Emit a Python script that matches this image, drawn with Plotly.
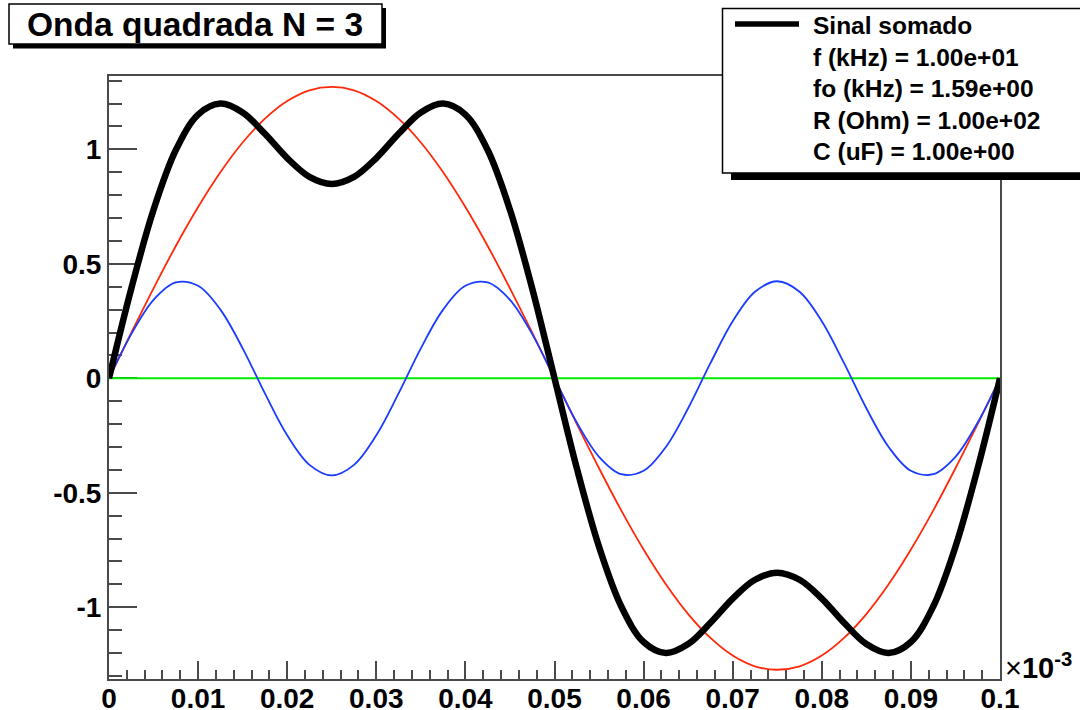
import plotly.graph_objects as go

# time axis (units of 1e-3 s), one full period of the 10 kHz square wave
t = [0.0, 0.0025, 0.005, 0.0075, 0.01, 0.0125, 0.015, 0.0175, 0.02, 0.0225,
     0.025, 0.0275, 0.03, 0.0325, 0.035, 0.0375, 0.04, 0.0425, 0.045, 0.0475,
     0.05, 0.0525, 0.055, 0.0575, 0.06, 0.0625, 0.065, 0.0675, 0.07, 0.0725,
     0.075, 0.0775, 0.08, 0.0825, 0.085, 0.0875, 0.09, 0.0925, 0.095, 0.0975, 0.1]

# first harmonic
harm1 = [0.0, 0.199, 0.393, 0.578, 0.748, 0.900, 1.030, 1.134, 1.211, 1.258,
         1.273, 1.258, 1.211, 1.134, 1.030, 0.900, 0.748, 0.578, 0.393, 0.199,
         0.0, -0.199, -0.393, -0.578, -0.748, -0.900, -1.030, -1.134, -1.211, -1.258,
         -1.273, -1.258, -1.211, -1.134, -1.030, -0.900, -0.748, -0.578, -0.393, -0.199, 0.0]

# second harmonic (vanishes for a square wave)
harm2 = [0.0, 0.0, 0.0, 0.0, 0.0, 0.0, 0.0, 0.0, 0.0, 0.0,
         0.0, 0.0, 0.0, 0.0, 0.0, 0.0, 0.0, 0.0, 0.0, 0.0,
         0.0, 0.0, 0.0, 0.0, 0.0, 0.0, 0.0, 0.0, 0.0, 0.0,
         0.0, 0.0, 0.0, 0.0, 0.0, 0.0, 0.0, 0.0, 0.0, 0.0, 0.0]

# third harmonic
harm3 = [0.0, 0.193, 0.343, 0.419, 0.404, 0.300, 0.131, -0.066, -0.249, -0.378,
         -0.424, -0.378, -0.249, -0.066, 0.131, 0.300, 0.404, 0.419, 0.343, 0.193,
         0.0, -0.193, -0.343, -0.419, -0.404, -0.300, -0.131, 0.066, 0.249, 0.378,
         0.424, 0.378, 0.249, 0.066, -0.131, -0.300, -0.404, -0.419, -0.343, -0.193, 0.0]

# summed signal
soma = [0.0, 0.392, 0.736, 0.997, 1.152, 1.200, 1.161, 1.068, 0.962, 0.880,
        0.849, 0.880, 0.962, 1.068, 1.161, 1.200, 1.152, 0.997, 0.736, 0.392,
        0.0, -0.392, -0.736, -0.997, -1.152, -1.200, -1.161, -1.068, -0.962, -0.880,
        -0.849, -0.880, -0.962, -1.068, -1.161, -1.200, -1.152, -0.997, -0.736, -0.392, 0.0]

x_ticks = [0, 0.01, 0.02, 0.03, 0.04, 0.05, 0.06, 0.07, 0.08, 0.09, 0.1]
x_labels = ["0", "0.01", "0.02", "0.03", "0.04", "0.05", "0.06", "0.07", "0.08", "0.09", "0.1"]
y_ticks = [-1, -0.5, 0, 0.5, 1]
y_labels = ["-1", "-0.5", "0", "0.5", "1"]

title_text = "Onda quadrada N = 3"
legend_lines = ["Sinal somado", "f (kHz) = 1.00e+01", "fo (kHz) = 1.59e+00",
                "R (Ohm) = 1.00e+02", "C (uF) = 1.00e+00"]

FONT = "Liberation Sans, Arial, Helvetica, sans-serif"
W, H = 1080, 710
L, R, T, B = 109, 1000, 76, 679


def px_x(p):
    return (p - L) / (R - L)


def px_y(p):
    return (B - p) / (B - T)


fig = go.Figure()
fig.add_trace(go.Scatter(x=t, y=harm1, mode="lines", line=dict(color="#ff2a0a", width=1.8, shape="spline"),
                         showlegend=False, hoverinfo="skip"))
fig.add_trace(go.Scatter(x=t, y=harm2, mode="lines", line=dict(color="#00ee00", width=2),
                         showlegend=False, hoverinfo="skip"))
fig.add_trace(go.Scatter(x=t, y=harm3, mode="lines", line=dict(color="#1a3cff", width=1.8, shape="spline"),
                         showlegend=False, hoverinfo="skip"))
fig.add_trace(go.Scatter(x=t, y=soma, mode="lines", line=dict(color="black", width=6.5, shape="spline"),
                         showlegend=False, hoverinfo="skip"))

axis_common = dict(
    showline=True, mirror=True, linecolor="#4a4a4a", linewidth=2, layer="below traces",
    showgrid=False, zeroline=False, ticks="inside", tickcolor="#4a4a4a", tickwidth=1.5,
    tickfont=dict(family=FONT, size=28, color="black", weight="bold"),
)

fig.update_xaxes(
    range=[0, 0.1], tickmode="array", tickvals=x_ticks, ticktext=x_labels, ticklen=18,
    ticklabelstandoff=-7,
    minor=dict(ticks="inside", ticklen=9, tick0=0, dtick=0.002, tickcolor="#4a4a4a", tickwidth=1.5),
    **axis_common,
)
fig.update_yaxes(
    range=[-1.3135, 1.3205], tickmode="array", tickvals=y_ticks, ticktext=y_labels, ticklen=28,
    minor=dict(ticks="inside", ticklen=13, tick0=0, dtick=0.1, tickcolor="#4a4a4a", tickwidth=1.5),
    **axis_common,
)

shapes = [
    # title box with drop shadow
    dict(type="rect", xref="paper", yref="paper", x0=px_x(13), x1=px_x(386), y0=px_y(8), y1=px_y(48.5),
         fillcolor="black", line=dict(width=0), layer="above"),
    dict(type="rect", xref="paper", yref="paper", x0=px_x(9), x1=px_x(382), y0=px_y(4), y1=px_y(44),
         fillcolor="white", line=dict(color="black", width=1.5), layer="above"),
    # legend box with drop shadow
    dict(type="rect", xref="paper", yref="paper", x0=px_x(731), x1=px_x(1100), y0=px_y(16), y1=px_y(180),
         fillcolor="black", line=dict(width=0), layer="above"),
    dict(type="rect", xref="paper", yref="paper", x0=px_x(722.5), x1=px_x(1095), y0=px_y(8.5), y1=px_y(173),
         fillcolor="white", line=dict(color="black", width=1.5), layer="above"),
    # legend line sample
    dict(type="line", xref="paper", yref="paper", x0=px_x(735), x1=px_x(799), y0=px_y(24), y1=px_y(24),
         line=dict(color="black", width=5.5), layer="above"),
]

annotations = [
    dict(xref="paper", yref="paper", x=px_x(195), y=px_y(24.5), text="<b>" + title_text + "</b>",
         showarrow=False, xanchor="center", yanchor="middle",
         font=dict(family=FONT, size=33.5, color="black")),
    dict(xref="paper", yref="paper", x=px_x(1003), y=px_y(666), text="×<b>10</b><sup><b>-3</b></sup>",
         showarrow=False, xanchor="left", yanchor="middle",
         font=dict(family=FONT, size=29, color="black")),
]
row_y = [26, 57.5, 88.5, 120, 151]
for label, yy in zip(legend_lines, row_y):
    annotations.append(dict(xref="paper", yref="paper", x=px_x(811), y=px_y(yy), text="<b>" + label + "</b>",
                            showarrow=False, xanchor="left", yanchor="middle",
                            font=dict(family=FONT, size=24.5, color="black")))

fig.update_layout(
    width=W, height=H, margin=dict(l=L, r=W - R, t=T, b=H - B, autoexpand=False),
    paper_bgcolor="white", plot_bgcolor="white",
    shapes=shapes, annotations=annotations,
    font=dict(family=FONT),
)

fig.write_html("out.html")
